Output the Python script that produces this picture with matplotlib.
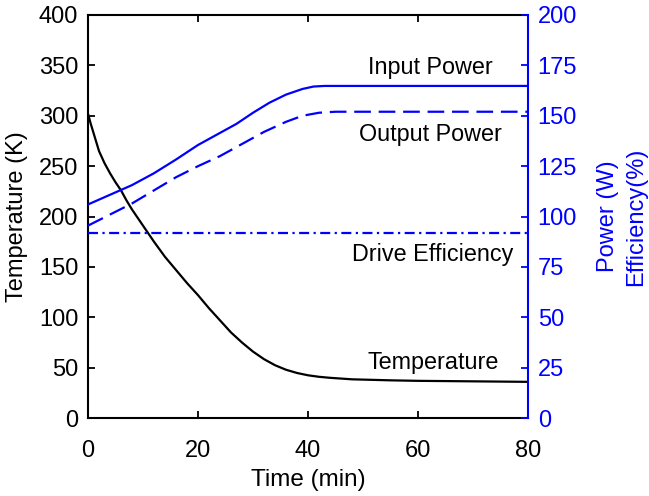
import matplotlib.pyplot as plt
import numpy as np

plt.rcParams['font.family'] = ['Liberation Sans', 'DejaVu Sans']

# temperature of the cold stage (K)
temp_time = [0, 0.5, 1, 2, 3, 4, 5, 6, 7, 8, 10, 12, 14, 16, 18, 20, 22, 24, 26, 28,
             30, 32, 34, 36, 38, 40, 42, 44, 48, 55, 60, 70, 80]
temp_k = [302, 292, 283, 265, 253, 243, 234, 226, 216, 207, 191, 175, 160, 147, 134, 122,
          109, 97, 85, 75, 66, 58.5, 52.5, 48, 44.8, 42.5, 41, 40, 38.5, 37.5, 37, 36.5, 36]

# input / output electrical power (W)
pin_time = [0, 4, 8, 12, 16, 20, 24, 27, 30, 33, 36, 39, 41, 43, 80]
pin_w = [106, 110.8, 115.6, 121.5, 128.3, 135.5, 141.5, 146, 151.5, 156.5, 160.5, 163.3,
         164.5, 164.8, 164.8]

pout_time = [0, 4, 8, 12, 16, 20, 24, 28, 32, 36, 39, 42, 45, 80]
pout_w = [95.5, 101, 106.5, 113, 119.5, 125, 130, 136, 142, 147, 150, 151.5, 152, 152]

eff_time = [0, 80]
eff_pct = [92, 92]

labels = ["Input Power", "Output Power", "Drive Efficiency", "Temperature"]

fig = plt.figure(figsize=(6.49, 4.96), dpi=100)
ax = fig.add_axes([0.1356, 0.157, 0.678, 0.8128])
ax2 = ax.twinx()

ax.plot(temp_time, temp_k, color='black', lw=1.6)
ax2.plot(pin_time, pin_w, color='blue', lw=1.6)
ax2.plot(pout_time, pout_w, color='blue', lw=1.6, dashes=(7.5, 3.5))
ax2.plot(eff_time, eff_pct, color='blue', lw=1.6, dashes=(4.5, 2, 1, 2))

ax.set_xlim(0, 80)
ax.set_ylim(0, 400)
ax2.set_ylim(0, 200)
ax.set_xticks([0, 20, 40, 60, 80])
ax.set_yticks(np.arange(0, 401, 50))
ax2.set_yticks(np.arange(0, 201, 25))

ax.tick_params(axis='x', direction='in', top=True, length=5, width=1.3, labelsize=17, pad=16)
ax.tick_params(axis='y', direction='in', length=5, width=1.3, labelsize=17, pad=7)
ax2.tick_params(axis='y', direction='in', length=5, width=1.3, labelsize=17, pad=7,
                colors='blue')

for s in ['left', 'top', 'bottom']:
    ax.spines[s].set_linewidth(1.5)
ax.spines['right'].set_visible(False)
for s in ['left', 'top', 'bottom']:
    ax2.spines[s].set_visible(False)
ax2.spines['right'].set_color('blue')
ax2.spines['right'].set_linewidth(1.5)

ax.set_xlabel("Time (min)", fontsize=17.5, labelpad=5)
ax.set_ylabel("Temperature (K)", fontsize=17, labelpad=8)
ax2.set_ylabel("Power (W)\nEfficiency(%)", fontsize=17, color='blue',
               linespacing=1.4, labelpad=14)

ax.text(62.2, 348, labels[0], fontsize=16.8, ha='center', va='center')
ax.text(62.2, 281, labels[1], fontsize=16.8, ha='center', va='center')
ax.text(62.7, 162, labels[2], fontsize=16.8, ha='center', va='center')
ax.text(62.7, 55.6, labels[3], fontsize=16.8, ha='center', va='center')

plt.savefig("out.png", dpi=100)
